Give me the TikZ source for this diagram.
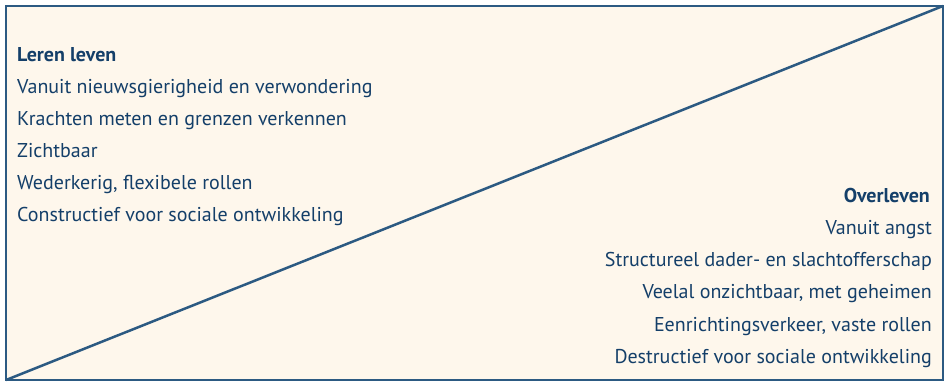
\documentclass[tikz,border=0pt]{standalone}
\usepackage{fontspec}
\setmainfont{PT Sans}
\definecolor{frame}{HTML}{2C5A82}
\definecolor{ink}{HTML}{143F69}
\definecolor{paper}{HTML}{FEF7EC}
\begin{document}
\begin{tikzpicture}[x=1pt,y=-1pt,
  txt/.style={inner sep=0pt,text=ink,font=\fontsize{20}{24}\selectfont},
  head/.style={txt,font=\fontsize{20}{24}\selectfont\bfseries}]
\useasboundingbox (0,0) rectangle (946,382);
\coordinate (tl) at (6,6);
\coordinate (br) at (943,380);
\coordinate (bl) at (6,380);
\coordinate (tr) at (943,6);
\draw[frame,line width=2.5pt,fill=paper] (tl) rectangle (br);
\draw[frame,line width=2.5pt] (bl) -- (tr);
\node[head,anchor=base west] (l0) at (17,62) {Leren leven};
\node[txt,anchor=base west] (l1) at (17,94) {Vanuit nieuwsgierigheid en verwondering};
\node[txt,anchor=base west] (l2) at (17,126) {Krachten meten en grenzen verkennen};
\node[txt,anchor=base west] (l3) at (17,158) {Zichtbaar};
\node[txt,anchor=base west] (l4) at (17,190) {Wederkerig, flexibele rollen};
\node[txt,anchor=base west] (l5) at (17,222) {Constructief voor sociale ontwikkeling};
\node[head,anchor=base east] (r0) at (930,203) {Overleven};
\node[txt,anchor=base east] (r1) at (932,235) {Vanuit angst};
\node[txt,anchor=base east] (r2) at (932,267) {Structureel dader- en slachtofferschap};
\node[txt,anchor=base east] (r3) at (932,299) {Veelal onzichtbaar, met geheimen};
\node[txt,anchor=base east] (r4) at (932,331) {Eenrichtingsverkeer, vaste rollen};
\node[txt,anchor=base east] (r5) at (932,363) {Destructief voor sociale ontwikkeling};
\end{tikzpicture}
\end{document}
